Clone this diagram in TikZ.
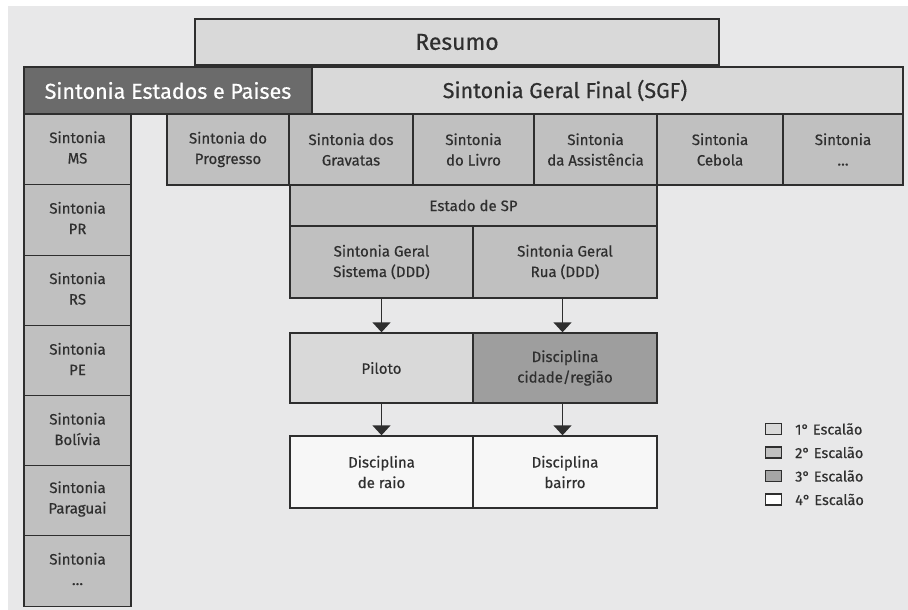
\documentclass[tikz,border=0pt]{standalone}
\usepackage{fontspec}
\setmainfont{Fira Sans}[FakeBold=0.5]
\usetikzlibrary{arrows.meta}
\definecolor{bg}{HTML}{E8E8E9}
\definecolor{lineC}{HTML}{2E2E2E}
\definecolor{txt}{HTML}{2F2F2F}
\definecolor{lvA}{HTML}{D9D9D9}
\definecolor{lvB}{HTML}{C0C0C0}
\definecolor{lvC}{HTML}{9E9E9E}
\definecolor{lvD}{HTML}{F7F7F7}
\definecolor{dark}{HTML}{6B6B6B}
\tikzset{
  box/.style={draw=lineC, line width=1.4pt, inner sep=0pt, align=center, text=txt,
    font=\fontsize{15}{20.5}\selectfont},
  big/.style={box, font=\fontsize{21.5}{24}\selectfont},
  lvone/.style={fill=lvA},
  lvtwo/.style={fill=lvB},
  lvthree/.style={fill=lvC},
  lvfour/.style={fill=lvD},
  conn/.style={draw=lineC, line width=1.5pt, -{Triangle[width=18pt,length=10pt]}},
  legbox/.style={draw=lineC, line width=1.2pt, minimum width=16pt, minimum height=11pt, inner sep=0pt},
  legtxt/.style={anchor=west, text=txt, font=\fontsize{14.5}{16}\selectfont, inner sep=0pt}
}
\begin{document}
\begin{tikzpicture}[x=1pt,y=-1pt]
\useasboundingbox (0,0) rectangle (908,610);
\fill[white] (0,0) rectangle (908,610);
\fill[bg] (8,6) rectangle (908,610);
% top
\node[big, lvone, minimum width=524pt, minimum height=46pt, font=\fontsize{23}{26}\selectfont] (resumo) at (457,42) {Resumo};
\node[big, fill=dark, text=white, minimum width=288pt, minimum height=47pt] (sep) at (168,90.5) {Sintonia Estados e Paises};
\node[big, lvone, minimum width=591pt, minimum height=47pt] (sgf) at (607.5,90.5) {};
\node[big, draw=none] (sgftext) at (565,90.5) {Sintonia Geral Final (SGF)};
% left column
\foreach \n/\y/\t in {ms/149.5/MS, pr/220/PR, rs/290.5/RS, pe/361/PE, bo/431/Bolívia, pa/501/Paraguai, ld/571/{\ldots}}{
  \node[box, lvtwo, minimum width=107pt, minimum height=70.5pt] (\n) at (77.5,\y) {};
  \node[box, draw=none, anchor=center] at (77.5,\y-2) {Sintonia\\\t};
}
% top row
\node[box, lvtwo, minimum width=122pt, minimum height=71pt] (prog) at (228,149.5) {Sintonia do\\Progresso};
\node[box, lvtwo, minimum width=124pt, minimum height=71pt] (grav) at (351,149.5) {Sintonia dos\\Gravatas};
\node[box, lvtwo, minimum width=121pt, minimum height=71pt] (livro) at (473.5,149.5) {Sintonia\\do Livro};
\node[box, lvtwo, minimum width=123pt, minimum height=71pt] (assist) at (595.5,149.5) {Sintonia\\da Assistência};
\node[box, lvtwo, minimum width=126pt, minimum height=71pt] (cebola) at (720,149.5) {Sintonia\\Cebola};
\node[box, lvtwo, minimum width=120pt, minimum height=71pt] (sdots) at (843,149.5) {Sintonia\\\ldots};
% middle
\node[box, lvtwo, minimum width=367pt, minimum height=41pt] (sp) at (473.5,205.5) {Estado de SP};
\node[box, lvtwo, minimum width=183pt, minimum height=72pt] (sis) at (381.5,262) {Sintonia Geral\\Sistema (DDD)};
\node[box, lvtwo, minimum width=184pt, minimum height=72pt] (rua) at (565,262) {Sintonia Geral\\Rua (DDD)};
\node[box, lvone, minimum width=183pt, minimum height=70pt] (piloto) at (381.5,368) {Piloto};
\node[box, lvthree, minimum width=184pt, minimum height=70pt] (cid) at (565,368) {Disciplina\\cidade/região};
\node[box, lvfour, minimum width=183pt, minimum height=72pt] (raio) at (381.5,472) {Disciplina\\de raio};
\node[box, lvfour, minimum width=184pt, minimum height=72pt] (bairro) at (565,472) {Disciplina\\bairro};
\draw[conn] (sis) -- (piloto);
\draw[conn] ([xshift=-2.5pt]rua.south) -- ([xshift=-2.5pt]cid.north);
\draw[conn] (piloto) -- (raio);
\draw[conn] ([xshift=-2.5pt]cid.south) -- ([xshift=-2.5pt]bairro.north);
% legend
\node[legbox, fill=lvA] (l1) at (773.5,429) {};
\node[legbox, fill=lvB] (l2) at (773.5,452.5) {};
\node[legbox, fill=lvC!80!lvB] (l3) at (773.5,476) {};
\node[legbox, fill=white] (l4) at (773.5,499.5) {};
\node[legtxt] (t1) at (795,429) {1° Escalão};
\node[legtxt] (t2) at (795,452.5) {2° Escalão};
\node[legtxt] (t3) at (795,476) {3° Escalão};
\node[legtxt] (t4) at (795,499.5) {4° Escalão};
\end{tikzpicture}
\end{document}
